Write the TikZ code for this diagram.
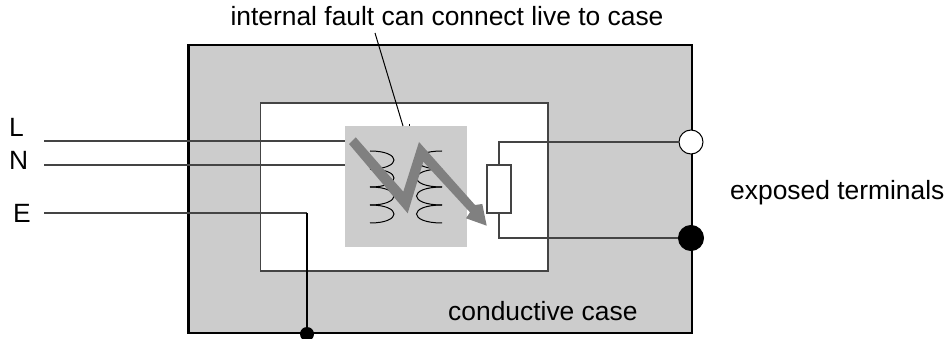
\documentclass[tikz,border=0pt]{standalone}
\usepackage{fontspec}
\setmainfont{Liberation Sans}
\usepackage{tikz}
\usetikzlibrary{positioning}
\definecolor{casegray}{HTML}{CCCCCC}
\definecolor{faultgray}{HTML}{808080}
\definecolor{wiregray}{HTML}{444444}

\tikzset{
  panel/.style={draw, anchor=north west, inner sep=0pt},
  wire/.style={draw=wiregray, line width=1.5pt},
  terminal/.style={draw, circle, inner sep=0pt, line width=1pt},
  caption/.style={inner sep=0pt, font=\fontsize{26.4}{30}\selectfont}
}

\begin{document}
\begin{tikzpicture}[x=1pt, y=-1pt]
  \useasboundingbox (0,0) rectangle (948,339);
  \node (case) [panel, fill=casegray, line width=2.5pt, minimum width=503.5pt, minimum height=288pt] at (187.25,43.75) {};
  \node (inner) [panel, fill=white, draw=wiregray, line width=1.5pt, minimum width=287.5pt, minimum height=168pt] at (259.75,102.25) {};
  \node (core) [panel, draw=none, fill=casegray, minimum width=122pt, minimum height=121pt] at (345,126) {};

  \coordinate (Lend) at (44,141);
  \coordinate (Nend) at (44,165);
  \coordinate (Eend) at (44,213);
  \node (resistor) [draw=wiregray, line width=1.5pt, inner sep=0pt, minimum width=24pt, minimum height=48pt] at (499,189) {};
  \node (live) [terminal, fill=white, minimum size=24pt] at (691,142) {};
  \node (earth) [terminal, fill=black, minimum size=25pt] at (691,238) {};
  \node (bond) [circle, fill=black, inner sep=0pt, minimum size=14pt] at (307,334) {};
  \coordinate (Ecorner) at (Eend -| bond);

  \draw[wire] (Lend) -- (Lend -| core.west);
  \draw[wire] (Nend) -- (Nend -| core.west);
  \draw[wire] (Eend) -- (Ecorner);
  \draw[line width=1.5pt] (Ecorner) -- (bond);
  \draw[wire] (resistor.north) |- (live);
  \draw[wire] (resistor.south) |- (earth);

  % windings
  \foreach \y in {151,169,187,205} {
    \draw[line width=1pt] (370,\y) .. controls (402,\y) and (402,\y+18) .. (370,\y+18);
    \draw[line width=1pt] (442,\y) .. controls (408,\y) and (408,\y+18) .. (442,\y+18);
  }

  % fault path
  \fill[faultgray] (355.7,137.3) -- (403.3,191.7) -- (419,142) -- (475,205) -- (482.3,204)
    -- (486.7,225.7) -- (466,218.3) -- (470,212.3) -- (423.3,161.7) -- (407.7,213.3) -- (349,144) -- cycle;

  \node (faultlabel) [caption, anchor=base] at (447,26) {internal fault can connect live to case};
  \coordinate (faulttip) at (403,126);
  \coordinate (faultstart) at (375,33);
  \draw[line width=1pt] (faultstart) -- (faulttip);
  \coordinate (ticktop) at (409,124);
  \draw[line width=1pt] (ticktop) -- (ticktop |- core.north);

  \node (Llabel) [caption, anchor=base west] at (9,137) {L};
  \node (Nlabel) [caption, anchor=base west] at (9,170) {N};
  \node (Elabel) [caption, anchor=base west] at (13,223) {E};
  \node (termlabel) [caption, anchor=base west] at (730,200) {exposed terminals};
  \node (caselabel) [caption, anchor=base west] at (448,320) {conductive case};
\end{tikzpicture}
\end{document}
